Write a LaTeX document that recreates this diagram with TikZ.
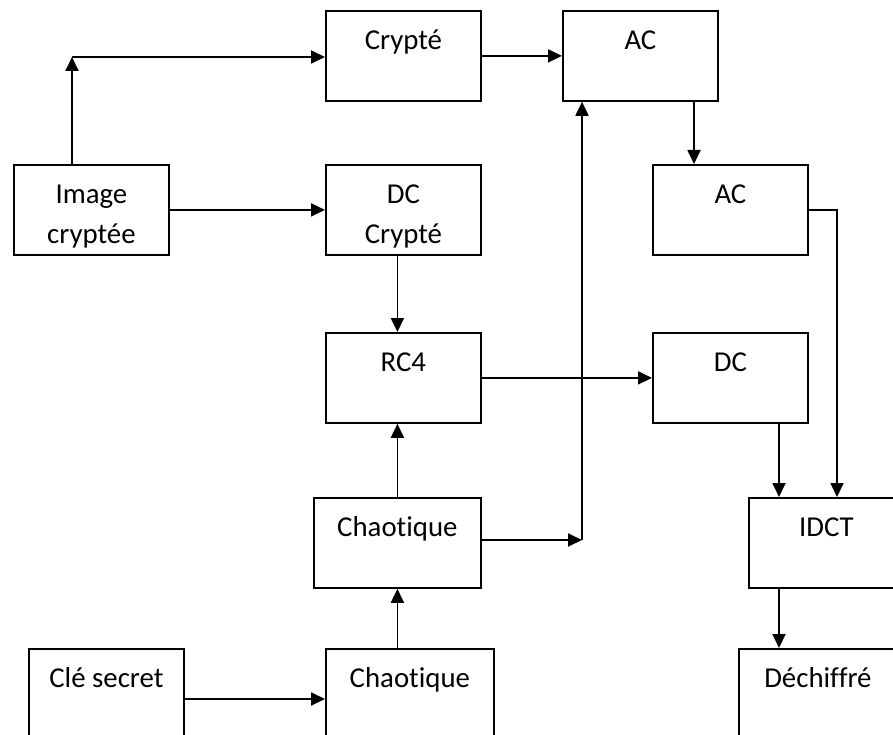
\documentclass[tikz,border=0pt]{standalone}
\usepackage{fontspec}
\setmainfont{Carlito}[Ligatures={NoCommon}]
\usetikzlibrary{arrows.meta}

\tikzset{
  bloc/.style={draw, line width=1.8pt, minimum width=155pt, inner sep=0pt,
    text height=38.5pt, text depth=51.5pt, anchor=north west},
  fleche/.style={line width=1.8pt, -{Triangle[length=14pt,width=13pt]}}
}

\begin{document}
\begin{tikzpicture}[x=1pt, y=-1pt, font=\fontsize{28.8}{40}\selectfont]
      \useasboundingbox (0,0) rectangle (893,735);

      % Blocs
      \node[bloc] (crypte) at (325,10) {Crypté};
      \node[bloc] (ac1) at (562,10) {AC};
      \node[bloc] (image) at (13,164) {\begin{tabular}[t]{@{}c@{}}Image\\cryptée\end{tabular}};
      \node[bloc] (dccrypte) at (325,164) {\begin{tabular}[t]{@{}c@{}}DC\\Crypté\end{tabular}};
      \node[bloc] (ac2) at (652,164) {AC};
      \node[bloc] (rc4) at (325,332) {RC4};
      \node[bloc] (dc) at (652,332) {DC};
      \node[bloc, minimum width=167pt] (chaos1) at (313,497) {Chaotique};
      \node[bloc] (idct) at (748,497) {IDCT};
      \node[bloc] (cle) at (28,648) {Clé secret};
      \node[bloc, minimum width=168pt] (chaos2) at (325,648) {Chaotique};
      \node[bloc, minimum width=158pt] (dechiffre) at (738,648) {Déchiffré};

      % Points de passage
      \coordinate (coinA) at (72,57);
      \coordinate (coinB) at (582,540);
      \coordinate (p1) at (694,0);
      \coordinate (p2) at (837,0);
      \coordinate (p3) at (779,0);
      \coordinate (p4) at (0,699);

      % Fleches
      \draw[fleche] (image.north -| coinA) -- (coinA);
      \draw[fleche] (coinA) -- (crypte.west |- coinA);
      \draw[fleche] (crypte.east) -- (ac1.west |- crypte.east);
      \draw[fleche] (image.east) -- (dccrypte.west);
      \draw[fleche] (dccrypte.south -| chaos1.north) -- (rc4.north -| chaos1.north);
      \draw[fleche] (chaos1.north) -- (rc4.south -| chaos1.north);
      \draw[fleche] (chaos2.north -| chaos1.south) -- (chaos1.south);
      \draw[fleche] (cle.east |- p4) -- (chaos2.west |- p4);
      \draw[fleche] (chaos1.east |- coinB) -- (coinB);
      \draw[fleche] (coinB) -- (ac1.south -| coinB);
      \draw[fleche] (rc4.east) -- (dc.west |- rc4.east);
      \draw[fleche] (ac1.south -| p1) -- (ac2.north -| p1);
      \draw[fleche] (ac2.east) -| (idct.north -| p2);
      \draw[fleche] (dc.south -| p3) -- (idct.north -| p3);
      \draw[fleche] (idct.south -| p3) -- (dechiffre.north -| p3);
\end{tikzpicture}
\end{document}
